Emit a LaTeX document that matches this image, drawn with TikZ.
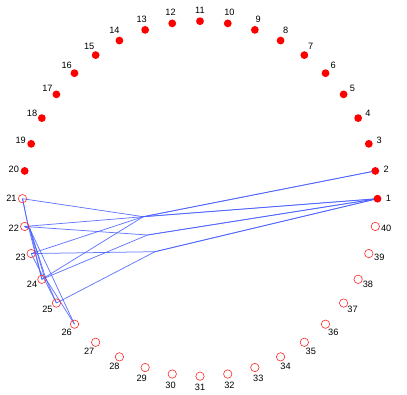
\documentclass[tikz,border=0pt]{standalone}
\usepackage{fontspec}
\setmainfont{Liberation Sans}
\usetikzlibrary{backgrounds}

\definecolor{linkblue}{RGB}{70,95,255}

\begin{document}
\begin{tikzpicture}[
    x=1pt, y=1pt,
    redvert/.style={circle, fill=red, inner sep=0pt, minimum size=7.8pt},
    openvert/.style={circle, draw=red!85, line width=0.6pt, inner sep=0pt,
      minimum size=8.4pt},
    num/.style={font=\fontsize{9.2}{10}\selectfont, inner sep=0pt},
    edge/.style={draw=linkblue, line width=0.75pt, opacity=0.85}
  ]
  \useasboundingbox (0,0) rectangle (407,-395);

  % vertices round the circle
  \begin{scope}[shift={(200,-198.7)}]
    \foreach \i in {1,...,20}
      \node[redvert] (n\i) at ({(\i-1)*9}:177.5) {};
    \foreach \i in {21,...,40}
      \node[openvert] (n\i) at ({(\i-1)*9}:177.5) {};
    \foreach \i in {1,...,40}
      \node[num] (l\i) at ({(\i-1)*9}:188.5) {\i};
  \end{scope}

  % bundle points
  \coordinate (b1) at (143.3,-216.7);
  \coordinate (b2) at (147.5,-235);
  \coordinate (b3) at (155,-251.7);
  \coordinate (k1) at (28,-225);
  \coordinate (k2) at (30,-229);
  \coordinate (k3) at (44,-276);
  \coordinate (k4) at (46,-279);

  \begin{pgfonlayer}{background}
    \draw[edge] (n21.center) -- (b1) -- (n2.center);
    \draw[edge] (n23.center) -- (b1) -- (n2.center);
    \draw[edge] (n22.center) -- (b1) -- (n1.center);
    \draw[edge] (n24.center) -- (b1) -- (n1.center);
    \draw[edge] (n22.center) -- (b2) -- (n1.center);
    \draw[edge] (n24.center) -- (b2) -- (n1.center);
    \draw[edge] (n23.center) -- (b3) -- (n1.center);
    \draw[edge] (n25.center) -- (b3) -- (n1.center);

    \draw[edge] (n21.center) -- (k1) -- (n26.center);
    \draw[edge] (n21.center) -- (k1) -- (n24.center);
    \draw[edge] (n22.center) -- (k2) -- (n24.center);
    \draw[edge] (n22.center) -- (k2) -- (k3) -- (n26.center);
    \draw[edge] (n22.center) -- (k2) -- (k4) -- (n25.center);
    \draw[edge] (n23.center) -- (n25.center);
  \end{pgfonlayer}
\end{tikzpicture}
\end{document}
